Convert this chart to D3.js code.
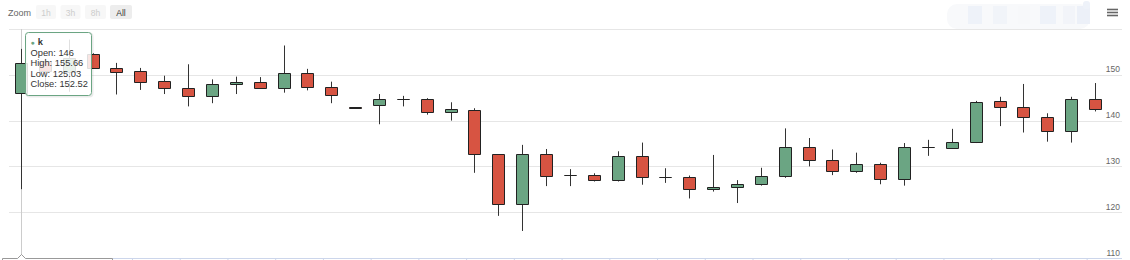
<!DOCTYPE html>
<html><head><meta charset="utf-8">
<script src="https://cdn.jsdelivr.net/npm/d3@7"></script>
<style>html,body{margin:0;padding:0;background:#fff;}svg{display:block;font-family:"Liberation Sans",Arial,sans-serif;}</style>
</head><body>
<svg id="c" width="1130" height="260"></svg>
<script>
// ---- data ----
const startTime = "2020-01-01T10:01:21";
const open  = [146,153.1,150.7,154.5,151.5,150.9,148.7,147.2,145.3,148.0,148.5,147.1,150.4,147.4,142.9,143.4,144.8,144.8,141.9,142.3,132.6,121.7,132.8,128.1,128.1,127.0,132.2,127.7,127.7,125.0,125.4,126.2,128.0,134.2,131.5,129.0,130.5,127.2,134.2,134.1,135.3,144.2,142.9,140.7,137.7,144.7];
const high  = [155.66,153.5,157.7,154.7,152.6,151.5,149.8,152.3,149.0,149.6,149.5,156.4,151.3,148.5,142.9,145.8,145.4,144.9,144.0,142.7,132.6,134.7,133.8,129.4,128.5,133.3,135.2,129.6,128.0,132.5,127.0,129.7,138.3,136.2,133.7,133.0,130.8,135.1,135.8,138.2,144.3,145.2,148.0,141.6,145.2,148.2];
const low   = [125.03,146.7,146.3,151.3,145.7,146.7,145.8,143.1,143.8,145.8,147.1,146.1,146.6,143.8,142.8,139.2,143.1,141.3,140.0,128.6,119.2,115.9,125.7,125.7,126.7,126.7,126.0,126.4,123.0,124.5,122.0,125.8,127.5,130.0,128.1,128.6,126.1,125.8,132.3,134.1,135.1,138.8,137.4,135.4,135.2,142.0];
const close = [152.52,150.9,153.7,151.5,150.7,148.5,147.1,145.4,148.0,148.5,147.1,150.4,147.4,145.5,142.8,144.7,144.8,141.9,142.5,132.6,121.7,132.7,128.0,128.1,127.0,132.2,127.6,127.7,125.0,125.4,126.2,128.0,134.2,131.3,129.0,130.5,127.2,134.2,134.2,135.3,144.0,142.9,140.7,137.7,144.7,142.5];
const yGridValues = [110,120,130,140,150,160];
const yTickLabels = [110,120,130,140,150];
const rangeButtons = ["1h","3h","8h","All"];
const seriesName = "k";
const hoverIndex = 0;

// ---- build ----
const t0 = new Date(startTime);
const times = close.map((_, i) => d3.timeMinute.offset(t0, i));
const data = times.map((t, i) => ({t, o: open[i], h: high[i], l: low[i], c: close[i]}));

const svg = d3.select("#c");
const plotL = 9, plotR = 1122, plotT = 29, plotB = 258;
const x = d3.scaleTime().domain([times[0], times[times.length-1]]).range([21, 1095]);
const y = d3.scaleLinear().domain([110, 160]).range([plotB, plotT]);
const UP = "#6ba583", DOWN = "#d75442";

// grid
svg.append("g").selectAll("line").data(yGridValues.filter(v => v !== 110)).join("line")
  .attr("x1", plotL).attr("x2", plotR)
  .attr("y1", d => Math.round(y(d)) + 0.5).attr("y2", d => Math.round(y(d)) + 0.5)
  .attr("stroke", "#e6e6e6").attr("stroke-width", 1);

// x axis
const xAxis = d3.axisBottom(x).ticks(d3.timeMinute.every(2)).tickSize(10).tickFormat("");
const xg = svg.append("g").attr("transform", `translate(0,${Math.round(y(110)) + 0.5})`).call(xAxis);
xg.select(".domain").attr("stroke", "#ccd6eb").attr("d", `M${plotL},0H${plotR}`);
xg.selectAll(".tick line").attr("stroke", "#ccd6eb");

// y labels
svg.append("g").selectAll("text").data(yTickLabels).join("text")
  .attr("x", 1120).attr("y", d => y(d) - 2.5)
  .attr("text-anchor", "end").attr("font-size", 8.5).attr("fill", "#666")
  .text(d => d);

// crosshair
const cx = Math.round(x(times[hoverIndex])) + 0.5;
svg.append("line").attr("x1", cx).attr("x2", cx).attr("y1", plotT).attr("y2", plotB)
  .attr("stroke", "#cccccc").attr("stroke-width", 1);

// candles
const bw = 12;
const cg = svg.append("g");
const candle = cg.selectAll("g").data(data).join("g");
candle.append("line")
  .attr("x1", d => Math.round(x(d.t)) + 0.5).attr("x2", d => Math.round(x(d.t)) + 0.5)
  .attr("y1", d => y(d.h)).attr("y2", d => y(d.l))
  .attr("stroke", "#333").attr("stroke-width", 1);
candle.append("path")
  .attr("d", d => {
    const x0 = Math.round(x(d.t) - bw/2) + 0.5, x1 = x0 + bw;
    const y0 = Math.round(y(Math.max(d.o, d.c))) + 0.5;
    const y1 = Math.round(y(Math.min(d.o, d.c))) + 0.5;
    return `M${x0},${y0}H${x1}V${y1}H${x0}Z`;
  })
  .attr("fill", d => d.c >= d.o ? UP : DOWN)
  .attr("stroke", "#222").attr("stroke-width", 1);

// range selector
svg.append("text").attr("x", 8).attr("y", 16).attr("font-size", 9).attr("fill", "#666").text("Zoom");
const bx = [36, 60.5, 85, 110];
const bwid = [20, 20, 21, 22];
const bg = svg.append("g").selectAll("g").data(rangeButtons).join("g")
  .attr("transform", (d, i) => `translate(${bx[i]},5)`);
bg.append("rect").attr("width", (d, i) => bwid[i]).attr("height", 14).attr("rx", 2)
  .attr("fill", d => d === "All" ? "#ededed" : "#f7f7f7");
bg.append("text").attr("x", (d, i) => bwid[i] / 2).attr("y", 10.5).attr("text-anchor", "middle")
  .attr("font-size", 8.5).attr("fill", d => d === "All" ? "#333" : "#cccccc").text(d => d);

// blurred input area (top right)
const blur = svg.append("g");
blur.append("rect").attr("x", 947).attr("y", 4).attr("width", 143).attr("height", 25).attr("rx", 10)
  .attr("fill", "#f8f9fb");
[[968, 14, "#eef2f9"], [993, 14, "#f1f4f9"], [1018, 12, "#f7f8fa"], [1040, 16, "#eef2f9"], [1063, 12, "#f2f4f9"], [1077, 13, "#ecf0f8"]]
  .forEach(([bxx, w, col]) => blur.append("rect").attr("x", bxx).attr("y", 6).attr("width", w).attr("height", 18).attr("fill", col));
blur.append("rect").attr("x", 1083).attr("y", 1).attr("width", 7).attr("height", 8).attr("rx", 3).attr("fill", "#eef2f9");
svg.append("line").attr("x1", 1085).attr("x2", 1122).attr("y1", 29.5).attr("y2", 29.5).attr("stroke", "#e6e6e6");

// menu icon
svg.append("g").selectAll("line").data([9.5, 12.5, 15.5]).join("line")
  .attr("x1", 1107).attr("x2", 1118).attr("y1", d => d).attr("y2", d => d)
  .attr("stroke", "#666").attr("stroke-width", 1.6);

// x crosshair label (bottom)
svg.append("path")
  .attr("d", `M2.5,272V258.5H${cx-4}L${cx},254.5L${cx+4},258.5H112.5V272`)
  .attr("fill", "#fff").attr("stroke", "#999").attr("stroke-width", 1);

// tooltip
const hp = data[hoverIndex];
const tt = svg.append("g").attr("transform", "translate(25.5,32.5)");
tt.append("rect").attr("x", 1).attr("y", 1).attr("width", 66).attr("height", 63).attr("rx", 3)
  .attr("fill", "none").attr("stroke", "rgba(0,0,0,0.08)").attr("stroke-width", 2);
tt.append("rect").attr("width", 66).attr("height", 63).attr("rx", 3)
  .attr("fill", "rgba(255,255,255,0.85)").attr("stroke", UP).attr("stroke-width", 1);
const tx = tt.append("text").attr("font-size", 9.3).attr("fill", "#333");
tx.append("tspan").attr("x", 5).attr("y", 12).attr("fill", UP).attr("font-size", 7).text("●");
tx.append("tspan").attr("dx", 3).attr("font-weight", "bold").text(seriesName);
const lines = [["Open", hp.o], ["High", hp.h], ["Low", hp.l], ["Close", hp.c]];
lines.forEach(([k, v], i) => tx.append("tspan").attr("x", 5).attr("y", 23 + i * 10.6).text(`${k}: ${v}`));
</script>
</body></html>
